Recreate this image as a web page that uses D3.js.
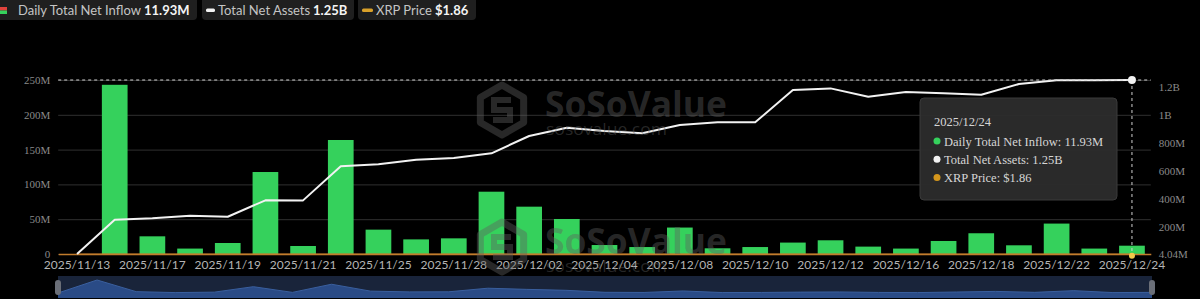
<!DOCTYPE html>
<html>
<head>
<meta charset="utf-8">
<script src="https://cdn.jsdelivr.net/npm/d3@7"></script>
<style>
  html, body { margin: 0; padding: 0; background: #000; }
  svg { display: block; }
</style>
</head>
<body>
<div id="chart"></div>
<script>
// XRP spot ETF flows — daily inflow bars, total net assets line, XRP price

const dates = [
  '2025/11/13', '2025/11/14', '2025/11/17', '2025/11/18', '2025/11/19', '2025/11/20',
  '2025/11/21', '2025/11/24', '2025/11/25', '2025/11/26', '2025/11/28', '2025/12/01',
  '2025/12/02', '2025/12/03', '2025/12/04', '2025/12/05', '2025/12/08', '2025/12/09',
  '2025/12/10', '2025/12/11', '2025/12/12', '2025/12/15', '2025/12/16', '2025/12/17',
  '2025/12/18', '2025/12/19', '2025/12/22', '2025/12/23', '2025/12/24'
]

// daily total net inflow, millions USD
const netInflow = [
  0, 243.1, 25.4, 7.8, 15.8, 117.8, 11.5, 163.8, 35.0, 21.0, 22.5, 89.5,
  68.0, 50.3, 12.9, 10.0, 38.0, 8.2, 10.0, 16.4, 19.7, 10.6, 7.8, 18.7,
  29.8, 12.5, 43.7, 7.8, 11.93
]

// total net assets, millions USD
const netAssets = [
  4.04, 249.6, 259.6, 278, 271, 388.5, 388, 632, 646, 679, 691, 725,
  849, 908, 885, 868, 928, 947, 947, 1178, 1190, 1130, 1164, 1155,
  1145, 1221, 1248, 1249, 1250
]

// XRP price, USD (drawn on the assets axis, so it hugs the baseline)
const xrpPrice = [
  2.38, 2.28, 2.15, 2.20, 2.12, 2.00, 1.95, 2.20, 2.22, 2.20, 2.18, 2.02,
  2.17, 2.18, 2.07, 2.02, 2.08, 2.07, 2.05, 2.00, 2.00, 1.92, 1.90, 1.86,
  1.82, 1.92, 1.93, 1.88, 1.86
]

const leftTicks = [0, 50, 100, 150, 200, 250]
const rightTicks = [4.04, 200, 400, 600, 800, 1000, 1200]
const xTickDates = dates.filter((d, i) => i % 2 === 0)

const W = 1200, H = 299
const plot = { left: 58.2, right: 1150.8, top: 80, bottom: 254 }

const GREEN = '#35d15c'
const ORANGE = '#c27c2c'
const SERIF = '"Liberation Serif", "Times New Roman", serif'
const SANS = 'Lato, "Open Sans", sans-serif'

const svg = d3.select('#chart').append('svg')
  .attr('width', W)
  .attr('height', H)
  .style('background', '#000')

// Scales
const x = d3.scaleBand()
  .domain(dates)
  .range([plot.left, plot.right])
  .paddingInner(0.318)
  .paddingOuter(0.159)

const cx = d => x(d) + x.bandwidth() / 2

const yLeft = d3.scaleLinear()
  .domain([0, 250])
  .range([plot.bottom, plot.top])

const yRight = d3.scaleLinear()
  .domain([d3.min(netAssets), d3.max(netAssets)])
  .range([plot.bottom, plot.top])

// Grid lines (left axis)
svg.append('g')
  .selectAll('line')
  .data(leftTicks)
  .join('line')
  .attr('x1', plot.left)
  .attr('x2', plot.right)
  .attr('y1', d => yLeft(d) + 0.5)
  .attr('y2', d => yLeft(d) + 0.5)
  .attr('stroke', '#303030')
  .attr('stroke-width', 1)

// Left axis
const fmtLeft = v => v === 0 ? '0' : v + 'M'
const leftAxis = svg.append('g')
  .attr('transform', `translate(${plot.left - 1},0)`)
  .call(d3.axisLeft(yLeft).tickValues(leftTicks).tickFormat(fmtLeft).tickSize(0).tickPadding(7))
leftAxis.select('.domain').remove()
leftAxis.selectAll('text')
  .attr('fill', '#8a8a8a')
  .attr('font-family', SERIF)
  .attr('font-size', '11px')

// Right axis
const fmtRight = v => v === 4.04 ? '4.04M' : v >= 1000 ? (v / 1000) + 'B' : v + 'M'
const rightAxis = svg.append('g')
  .attr('transform', `translate(${plot.right + 1},0)`)
  .call(d3.axisRight(yRight).tickValues(rightTicks).tickFormat(fmtRight).tickSize(0).tickPadding(7))
rightAxis.select('.domain').remove()
rightAxis.selectAll('text')
  .attr('fill', '#8a8a8a')
  .attr('font-family', SERIF)
  .attr('font-size', '11px')

// Bars
svg.append('g')
  .selectAll('rect')
  .data(dates)
  .join('rect')
  .attr('x', d => x(d))
  .attr('width', x.bandwidth())
  .attr('y', (d, i) => yLeft(netInflow[i]))
  .attr('height', (d, i) => plot.bottom - yLeft(netInflow[i]))
  .attr('fill', GREEN)

// X axis (orange base line)
const xAxis = svg.append('g')
  .attr('transform', `translate(0,${plot.bottom})`)
  .call(d3.axisBottom(x).tickValues(xTickDates).tickSize(0).tickPadding(6))
xAxis.select('.domain')
  .attr('stroke', ORANGE)
  .attr('stroke-width', 1.5)
xAxis.selectAll('text')
  .attr('fill', '#b4b4b4')
  .attr('font-family', SANS)
  .attr('font-size', '12px')

// XRP price line
svg.append('path')
  .datum(xrpPrice)
  .attr('fill', 'none')
  .attr('stroke', ORANGE)
  .attr('stroke-width', 1.5)
  .attr('d', d3.line().x((d, i) => cx(dates[i])).y(d => yRight(d)))

// Total net assets line
svg.append('path')
  .datum(netAssets)
  .attr('fill', 'none')
  .attr('stroke', '#f2f2f2')
  .attr('stroke-width', 2)
  .attr('stroke-linejoin', 'round')
  .attr('d', d3.line().x((d, i) => cx(dates[i])).y(d => yRight(d)))

// Watermarks
function watermark(dy) {
  const wm = svg.append('g')
    .attr('transform', `translate(0,${dy})`)
    .attr('pointer-events', 'none')
  const c = 'rgba(95,95,95,0.42)'
  const hx = 502, hy = 110, r = 25
  const pts = d3.range(6).map(k => {
    const a = Math.PI / 6 + k * Math.PI / 3
    return [hx + r * Math.cos(a), hy + r * Math.sin(a)]
  })
  wm.append('path')
    .attr('d', 'M' + pts.join('L') + 'Z')
    .attr('fill', 'none')
    .attr('stroke', c)
    .attr('stroke-width', 7)
    .attr('stroke-linejoin', 'round')
  wm.append('path')
    .attr('d', `M${hx + 9},${hy - 10} L${hx - 8},${hy - 10} L${hx - 8},${hy} L${hx + 8},${hy} L${hx + 8},${hy + 10} L${hx - 9},${hy + 10}`)
    .attr('fill', 'none')
    .attr('stroke', c)
    .attr('stroke-width', 6)
  wm.append('text')
    .attr('x', 545)
    .attr('y', 117)
    .attr('font-family', '"Open Sans", sans-serif')
    .attr('font-weight', 700)
    .attr('font-size', '36px')
    .attr('textLength', 182)
    .attr('lengthAdjust', 'spacingAndGlyphs')
    .attr('fill', c)
    .text('SoSoValue')
  wm.append('text')
    .attr('x', 546)
    .attr('y', 135)
    .attr('font-family', '"Open Sans", sans-serif')
    .attr('font-size', '16px')
    .attr('textLength', 121)
    .attr('lengthAdjust', 'spacingAndGlyphs')
    .attr('fill', c)
    .text('sosovalue.com')
}
watermark(0)
watermark(137)

// Crosshair for the last day
const last = dates.length - 1
const lx = cx(dates[last])
const ly = yRight(netAssets[last])
svg.append('line')
  .attr('x1', plot.left).attr('x2', plot.right)
  .attr('y1', ly).attr('y2', ly)
  .attr('stroke', '#cfcfcf')
  .attr('stroke-width', 1)
  .attr('stroke-dasharray', '3,3')
svg.append('line')
  .attr('x1', lx).attr('x2', lx)
  .attr('y1', ly).attr('y2', plot.bottom)
  .attr('stroke', '#cfcfcf')
  .attr('stroke-width', 1)
  .attr('stroke-dasharray', '3,3')
svg.append('circle')
  .attr('cx', lx).attr('cy', ly).attr('r', 4)
  .attr('fill', '#f2f2f2')
svg.append('circle')
  .attr('cx', lx).attr('cy', yRight(xrpPrice[last]) + 1.5).attr('r', 3)
  .attr('fill', '#f3c84a')

// Tooltip
const tip = svg.append('g').attr('transform', 'translate(920,98)')
tip.append('rect')
  .attr('width', 197).attr('height', 102).attr('rx', 4)
  .attr('fill', 'rgba(44,44,44,0.95)')
  .attr('stroke', '#3a3a3a')
tip.append('text')
  .attr('x', 14).attr('y', 28)
  .attr('font-family', SERIF).attr('font-size', '12.5px')
  .attr('fill', '#d6d6d6')
  .text(dates[last])
const tipRows = [
  { color: GREEN, label: 'Daily Total Net Inflow: ' + netInflow[last].toFixed(2) + 'M' },
  { color: '#f2f2f2', label: 'Total Net Assets: ' + (netAssets[last] / 1000).toFixed(2) + 'B' },
  { color: '#d4961c', label: 'XRP Price: $' + xrpPrice[last].toFixed(2) }
]
tipRows.forEach((row, i) => {
  const ty = 43 + i * 18.3
  tip.append('circle')
    .attr('cx', 17).attr('cy', ty).attr('r', 3.5)
    .attr('fill', row.color)
  tip.append('text')
    .attr('x', 24).attr('y', ty + 4.5)
    .attr('font-family', SERIF).attr('font-size', '12.5px')
    .attr('fill', '#d6d6d6')
    .text(row.label)
})

// Data zoom slider
const slider = { left: 58, right: 1152, top: 276, bottom: 298 }
const xs = d3.scalePoint().domain(dates).range([slider.left, slider.right])
const ys = d3.scaleLinear().domain([0, d3.max(netInflow)]).range([293, 280])
svg.append('rect')
  .attr('x', slider.left).attr('y', slider.top)
  .attr('width', slider.right - slider.left).attr('height', slider.bottom - slider.top)
  .attr('fill', '#19243a')
svg.append('path')
  .datum(netInflow)
  .attr('fill', '#2a4b86')
  .attr('d', d3.area().x((d, i) => xs(dates[i])).y0(slider.bottom).y1(d => ys(d)))
svg.append('path')
  .datum(netInflow)
  .attr('fill', 'none')
  .attr('stroke', '#3a5f9e')
  .attr('stroke-width', 1)
  .attr('d', d3.line().x((d, i) => xs(dates[i])).y(d => ys(d)))
;[slider.left, slider.right].forEach(hx => {
  svg.append('rect')
    .attr('x', hx - 3).attr('y', 280).attr('width', 6).attr('height', 15).attr('rx', 3)
    .attr('fill', '#6b6f78')
})

// Legend pills
const legend = [
  { x0: -8, x1: 197, icon: 'split', label: 'Daily Total Net Inflow', lx: 18, value: '11.93M', vx: 144 },
  { x0: 202, x1: 354, icon: '#f2f2f2', label: 'Total Net Assets', lx: 218, value: '1.25B', vx: 313 },
  { x0: 358, x1: 476, icon: '#d8a02a', label: 'XRP Price', lx: 376, value: '$1.86', vx: 435 }
]
const lg = svg.append('g')
legend.forEach(item => {
  lg.append('rect')
    .attr('x', item.x0).attr('y', -4)
    .attr('width', item.x1 - item.x0).attr('height', 24).attr('rx', 4)
    .attr('fill', '#1f1f1f')
  if (item.icon === 'split') {
    lg.append('rect').attr('x', 0).attr('y', 7).attr('width', 7).attr('height', 3.5).attr('fill', '#e0433c')
    lg.append('rect').attr('x', 0).attr('y', 10.5).attr('width', 7).attr('height', 3.5).attr('fill', GREEN)
  } else {
    lg.append('rect')
      .attr('x', item.x0 + 4).attr('y', 8.5)
      .attr('width', item.lx - item.x0 - 7).attr('height', 3.5).attr('rx', 1.5)
      .attr('fill', item.icon)
  }
  lg.append('text')
    .attr('x', item.lx).attr('y', 15)
    .attr('font-family', SANS).attr('font-size', '13px')
    .attr('fill', '#c4c4c4')
    .text(item.label)
  lg.append('text')
    .attr('x', item.vx).attr('y', 15)
    .attr('font-family', SANS).attr('font-size', '13px').attr('font-weight', 700)
    .attr('fill', '#f4f4f4')
    .text(item.value)
})
</script>
</body>
</html>
